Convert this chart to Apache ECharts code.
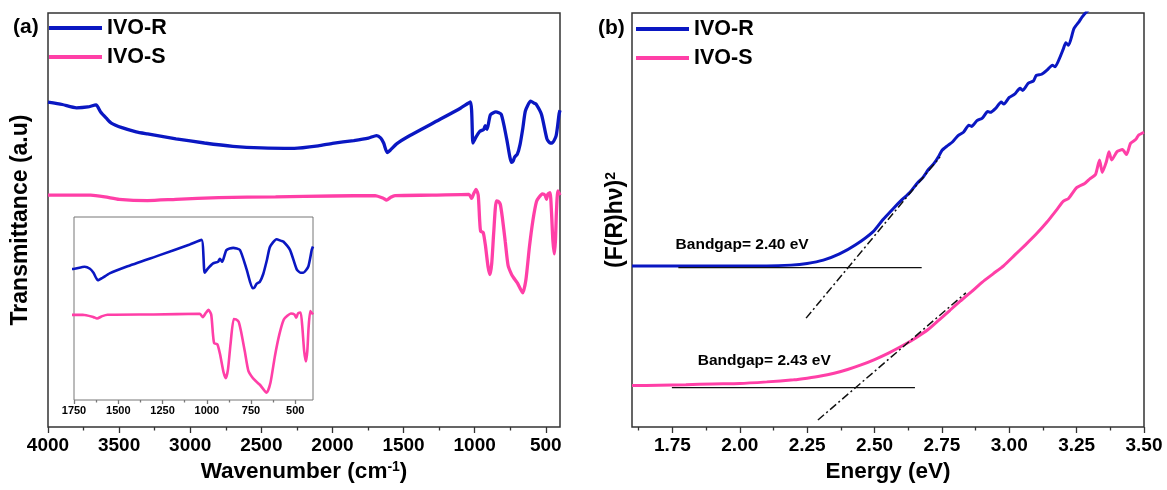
<!DOCTYPE html>
<html>
<head>
<meta charset="utf-8">
<script src="https://cdn.jsdelivr.net/npm/echarts@6/dist/echarts.min.js"></script>
<style>
html,body{margin:0;padding:0;background:#fff;}
#c{width:1167px;height:490px;}
</style>
</head>
<body>
<div id="c"></div>
<script>
// ---------- DATA ----------
const seriesNames = ['IVO-R', 'IVO-S'];

// (a) FTIR: wavenumber (cm-1) and transmittance (a.u.)
const ftirWnR = [4000,3900,3800,3720,3662,3630,3590,3555,3480,3380,3300,3100,2900,2700,2500,2268,2100,2000,1850,1747,1690,1660,1640,1615,1590,1549,1455,1266,1100,1030,1012,993,964,936,926,913,889,851,813,775,741,730,719,700,681,660,643,606,580,568,530,492,470,455,427,407,400];
const ftirTR  = [78.5,77.9,77.1,77.3,77.8,76.1,74.6,73.4,72.3,71.3,70.8,69.6,68.6,67.8,67.4,67.3,67.9,68.5,69.2,69.8,70.4,69.8,68.6,66.3,67.0,68.4,70.4,73.9,77.0,78.5,68.6,69.9,71.4,71.9,72.8,71.9,75.4,76.1,75.5,69.6,63.9,64.2,65.2,65.9,68.2,72.5,76.4,78.7,78.2,78.0,75.5,69.6,68.6,68.6,70.4,75.5,76.5];
const ftirWnS = [4000,3700,3600,3500,3300,3100,2800,2400,2000,1700,1640,1620,1590,1560,1300,1040,1022,1005,990,975,965,958,940,925,905,892,880,866,848,835,820,805,785,765,740,725,700,662,640,615,590,565,545,525,505,495,485,470,460,450,440,432,425,415,400];
const ftirTS  = [56.0,56.0,55.6,55.0,54.7,55.0,55.4,55.6,55.8,55.9,55.2,54.8,55.5,55.9,56.0,56.2,55.2,56.5,57.4,56.0,50.0,47.3,47.0,44.0,38.5,36.8,39.5,47.0,54.6,54.5,53.8,50.5,44.8,39.0,36.8,36.0,34.8,32.4,35.5,43.5,50.0,54.5,55.6,56.3,56.0,55.0,56.3,56.6,52.0,45.0,41.8,45.0,52.0,57.0,56.0];
const ftirTicks      = [500,1000,1500,2000,2500,3000,3500,4000];
const ftirMinorTicks = [750,1250,1750,2250,2750,3250,3750];
const insetTicks      = [500,750,1000,1250,1500,1750];
const insetMinorTicks = [625,875,1125,1375,1625];

// (b) Tauc plot: energy (eV) and (F(R)hv)^2
const energyR = [1.60,1.70,1.80,1.90,2.00,2.10,2.19,2.25,2.31,2.37,2.43,2.495,2.53,2.57,2.60,2.63,2.66,2.68,2.70,2.72,2.74,2.75,2.77,2.79,2.81,2.83,2.85,2.86,2.88,2.90,2.92,2.93,2.95,2.97,2.98,3.00,3.02,3.04,3.05,3.07,3.09,3.10,3.12,3.14,3.16,3.17,3.19,3.20,3.21,3.22,3.24,3.26,3.27,3.29,3.31,3.33];
const taucR   = [38.9,38.9,38.9,38.9,38.9,38.9,39.1,39.5,40.3,41.8,44.0,47.2,50.0,52.8,54.8,56.6,59.0,60.3,62.2,63.6,65.6,66.8,67.9,68.9,70.4,71.2,72.9,72.6,74.0,74.6,76.2,76.0,77.0,78.5,78.0,79.6,80.4,81.8,81.3,83.0,83.6,84.9,85.2,86.2,87.4,87.0,89.6,91.2,92.8,92.2,96.2,98.0,99.0,100.5,101.5,102.5];
const energyS = [1.60,1.70,1.80,1.90,2.00,2.10,2.20,2.25,2.30,2.35,2.40,2.45,2.50,2.55,2.60,2.65,2.70,2.74,2.78,2.82,2.86,2.90,2.94,2.98,3.02,3.06,3.10,3.14,3.18,3.20,3.22,3.25,3.28,3.30,3.32,3.335,3.345,3.36,3.37,3.38,3.40,3.42,3.435,3.45,3.47,3.48,3.50];
const taucS   = [10.0,10.1,10.2,10.4,10.5,10.9,11.4,11.8,12.3,13.0,13.9,15.0,16.3,17.8,19.5,21.4,23.6,25.9,28.2,30.5,32.7,35.0,37.0,39.0,41.5,44.0,46.6,49.5,52.8,54.5,55.2,57.8,58.8,60.0,61.0,64.5,61.5,64.0,66.5,64.5,66.5,67.0,65.8,68.5,69.5,70.5,71.2];
const energyTicks      = [1.75,2.00,2.25,2.50,2.75,3.00,3.25,3.50];
const energyMinorTicks = [1.625,1.875,2.125,2.375,2.625,2.875,3.125,3.375];

// Tangent (extrapolation) lines and baselines
const tangentE_R = [2.246, 2.743], tangentY_R = [26.3, 65.2];
const baseE_R    = [1.772, 2.675], baseY_R    = [38.5, 38.5];
const tangentE_S = [2.290, 2.839], tangentY_S = [1.69, 32.4];
const baseE_S    = [1.748, 2.650], baseY_S    = [9.5, 9.5];
const bandgaps   = [2.40, 2.43];

// ---------- CHART ----------
const F = "'Liberation Sans', Arial, Helvetica, sans-serif";
const BLUE = '#0a17c2', PINK = '#ff3fa7', FRAME = '#333';
const zip = (xs, ys) => xs.map((x, i) => [x, ys[i]]);
const bold = (size) => ({fontFamily: F, fontWeight: 'bold', fontSize: size, color: '#000'});

function tickAxis(grid, min, max, inverse, ticks, len, color, label) {
  return {
    gridIndex: grid, type: 'value', min: min, max: max, inverse: inverse, position: 'bottom',
    axisLine: {show: false}, splitLine: {show: false},
    axisTick: {show: true, customValues: ticks, length: len, lineStyle: {color: color, width: 1.3}},
    axisLabel: label ? Object.assign({customValues: ticks}, label) : {show: false}
  };
}
function hiddenY(grid, min, max) {
  return {gridIndex: grid, type: 'value', min: min, max: max,
    axisLine: {show: false}, axisTick: {show: false}, axisLabel: {show: false}, splitLine: {show: false}};
}
const plain = v => String(v);

const xA0 = tickAxis(0, 400, 4000, true, ftirTicks, 6, FRAME, Object.assign(bold(19), {margin: 9, formatter: plain}));
Object.assign(xA0, {name: 'Wavenumber (cm{sup|-1})', nameLocation: 'middle', nameGap: 33,
  nameTextStyle: Object.assign(bold(22.5), {rich: {sup: Object.assign(bold(14), {verticalAlign: 'top', lineHeight: 14})}})});
const xA1 = tickAxis(0, 400, 4000, true, ftirMinorTicks, 3.5, FRAME, null);
const xA2 = tickAxis(1, 400, 1750, true, insetTicks, 4, '#777', Object.assign(bold(11), {margin: 5, formatter: plain}));
const xA3 = tickAxis(1, 400, 1750, true, insetMinorTicks, 2.5, '#777', null);
const xA4 = tickAxis(2, 1.6, 3.5, false, energyTicks, 6, FRAME, Object.assign(bold(19), {margin: 9, formatter: v => v.toFixed(2)}));
Object.assign(xA4, {name: 'Energy (eV)', nameLocation: 'middle', nameGap: 33, nameTextStyle: bold(22.5)});
const xA5 = tickAxis(2, 1.6, 3.5, false, energyMinorTicks, 3.5, FRAME, null);

const yA0 = hiddenY(0, 0, 100);
Object.assign(yA0, {name: 'Transmittance (a.u)', nameLocation: 'middle', nameRotate: 90, nameGap: 16, nameTextStyle: bold(23)});
const yA1 = hiddenY(1, 30.2, 85.4);
const yA2 = hiddenY(2, 0, 100);
Object.assign(yA2, {name: '(F(R)hν){sup|2}', nameLocation: 'middle', nameRotate: 90, nameGap: 5,
  nameTextStyle: Object.assign(bold(23), {rich: {sup: Object.assign(bold(14), {verticalAlign: 'top', lineHeight: 14})}})});

function curve(name, data, xi, yi, color, width, smooth) {
  return {name: name, type: 'line', xAxisIndex: xi, yAxisIndex: yi, data: data, color: color,
    showSymbol: false, symbol: 'none', smooth: smooth, clip: true, silent: true,
    lineStyle: {color: color, width: width}, z: 3};
}
function guide(name, data, dash) {
  return {name: name, type: 'line', xAxisIndex: 4, yAxisIndex: 2, data: data, showSymbol: false, symbol: 'none',
    silent: true, color: '#000', lineStyle: {color: '#111', width: dash ? 1.5 : 1.1, type: dash ? [8, 3, 2, 3] : 'solid'}, z: 4};
}

const legendBase = {orient: 'vertical', icon: 'rect', itemWidth: 53, itemHeight: 4, itemGap: 7, padding: 0,
  data: seriesNames, selectedMode: false, textStyle: Object.assign(bold(21.5), {lineHeight: 21})};

const option = {
  animation: false,
  backgroundColor: '#fff',
  textStyle: {fontFamily: F},
  title: [
    {text: '(a)', left: 13, top: 17, padding: 0, textStyle: bold(21)},
    {text: '(b)', left: 598, top: 18, padding: 0, textStyle: bold(21)}
  ],
  legend: [
    Object.assign({left: 49, top: 17}, legendBase),
    Object.assign({left: 636, top: 18}, legendBase)
  ],
  grid: [
    {left: 48, top: 13, width: 512, height: 414, show: true, borderColor: FRAME, borderWidth: 1.5, outerBoundsMode: 'none'},
    {left: 74, top: 217, width: 239, height: 183, show: true, borderColor: '#777', borderWidth: 1, backgroundColor: '#fff', outerBoundsMode: 'none'},
    {left: 632, top: 13, width: 512, height: 414, show: true, borderColor: FRAME, borderWidth: 1.5, outerBoundsMode: 'none'}
  ],
  xAxis: [xA0, xA1, xA2, xA3, xA4, xA5],
  yAxis: [yA0, yA1, yA2],
  series: [
    curve(seriesNames[0], zip(ftirWnR, ftirTR), 0, 0, BLUE, 3.3, 0.2),
    curve(seriesNames[1], zip(ftirWnS, ftirTS), 0, 0, PINK, 3.3, 0.2),
    curve(seriesNames[0], zip(ftirWnR, ftirTR), 2, 1, BLUE, 2.6, 0.2),
    curve(seriesNames[1], zip(ftirWnS, ftirTS), 2, 1, PINK, 2.6, 0.2),
    curve(seriesNames[0], zip(energyR, taucR), 4, 2, BLUE, 3, 0.2),
    curve(seriesNames[1], zip(energyS, taucS), 4, 2, PINK, 3, 0.2),
    guide('tangentR', zip(tangentE_R, tangentY_R), true),
    guide('baseR', zip(baseE_R, baseY_R), false),
    guide('tangentS', zip(tangentE_S, tangentY_S), true),
    guide('baseS', zip(baseE_S, baseY_S), false),
    {
      name: 'bandgapLabels', type: 'scatter', xAxisIndex: 4, yAxisIndex: 2, silent: true,
      data: [[1.76, 44.0], [1.842, 15.9]], symbolSize: 1, itemStyle: {color: 'rgba(0,0,0,0)', opacity: 1},
      label: Object.assign({show: true, position: 'right', distance: 0, opacity: 1, textBorderWidth: 0,
        formatter: p => 'Bandgap= ' + bandgaps[p.dataIndex].toFixed(2) + ' eV'}, bold(15.5)),
      z: 5
    }
  ]
};
const chart = echarts.init(document.getElementById('c'));
chart.setOption(option);
</script>
</body>
</html>
